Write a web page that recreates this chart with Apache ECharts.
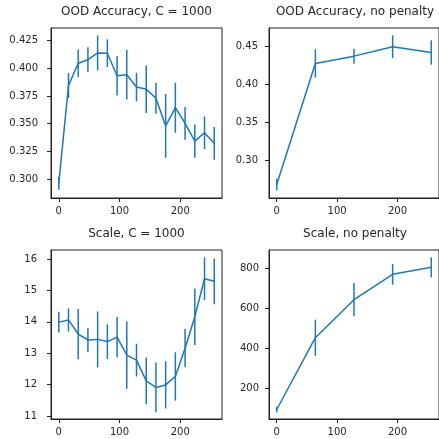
<!DOCTYPE html>
<html>
<head>
<meta charset="utf-8">
<script src="https://cdn.jsdelivr.net/npm/echarts@6/dist/echarts.min.js"></script>
<style>
html,body{margin:0;padding:0;background:#fff;overflow:hidden;}
#chart{width:439px;height:439px;}
</style>
</head>
<body>
<div id="chart"></div>
<script>
// ---- data ----
const stepsC = [0, 16, 32, 48, 64, 80, 96, 112, 128, 144, 160, 176, 192, 208, 224, 240, 256];
const stepsNoPen = [0, 64, 128, 192, 256];

const oodAccC = [0.2964, 0.3843, 0.4044, 0.4076, 0.4137, 0.4134, 0.3932, 0.3941, 0.3830, 0.3810, 0.3729, 0.3481, 0.3644, 0.3503, 0.3344, 0.3419, 0.3324];
const oodAccCErr = [0.0057, 0.0112, 0.0124, 0.0111, 0.0157, 0.0124, 0.0177, 0.0222, 0.0129, 0.0214, 0.0139, 0.0286, 0.0225, 0.0147, 0.0150, 0.0147, 0.0147];

const oodAccNoPen = [0.2688, 0.4271, 0.4367, 0.4491, 0.4415];
const oodAccNoPenErr = [0.0076, 0.0185, 0.0098, 0.0148, 0.0159];

const scaleC = [13.99, 14.06, 13.61, 13.42, 13.44, 13.37, 13.51, 12.94, 12.78, 12.12, 11.91, 11.99, 12.26, 13.16, 14.16, 15.37, 15.29];
const scaleCErr = [0.33, 0.37, 0.80, 0.38, 0.89, 0.55, 0.64, 1.07, 0.52, 0.74, 0.79, 0.75, 0.77, 0.61, 0.90, 0.68, 0.73];

const scaleNoPen = [94, 453, 643, 770, 805];
const scaleNoPenErr = [14, 90, 83, 52, 50];

const xTicks = [0, 100, 200];
const yTicksOodC = [0.300, 0.325, 0.350, 0.375, 0.400, 0.425];
const yTicksOodNoPen = [0.30, 0.35, 0.40, 0.45];
const yTicksScaleC = [11, 12, 13, 14, 15, 16];
const yTicksScaleNoPen = [200, 400, 600, 800];

const titles = ['OOD Accuracy, C = 1000', 'OOD Accuracy, no penalty', 'Scale, C = 1000', 'Scale, no penalty'];

// ---- chart ----
const C0 = '#1f77b4';
const TXT = '#262626';
const FONT = '"DejaVu Sans", sans-serif';

const panels = [
  {x: stepsC, y: oodAccC, e: oodAccCErr, yt: yTicksOodC, fmt: v => v.toFixed(3), ymin: 0.2832, ymax: 0.4361,
   grid: {left: 51, top: 28, width: 171, height: 170}, lm: 13},
  {x: stepsNoPen, y: oodAccNoPen, e: oodAccNoPenErr, yt: yTicksOodNoPen, fmt: v => v.toFixed(2), ymin: 0.2512, ymax: 0.4735,
   grid: {left: 269, top: 28, width: 172, height: 170}, lm: 11},
  {x: stepsC, y: scaleC, e: scaleCErr, yt: yTicksScaleC, fmt: v => String(v), ymin: 10.904, ymax: 16.287,
   grid: {left: 51, top: 250, width: 171, height: 169}, lm: 14},
  {x: stepsNoPen, y: scaleNoPen, e: scaleNoPenErr, yt: yTicksScaleNoPen, fmt: v => String(v), ymin: 46.5, ymax: 891.5,
   grid: {left: 269, top: 250, width: 172, height: 169}, lm: 10}
];

const option = {
  animation: false,
  backgroundColor: '#fff',
  title: [], grid: [], xAxis: [], yAxis: [], series: []
};

panels.forEach((p, i) => {
  option.grid.push(Object.assign({show: true, borderColor: '#222', borderWidth: 1, backgroundColor: 'transparent'}, p.grid));
  option.title.push({
    text: titles[i],
    left: p.grid.left + p.grid.width / 2,
    top: p.grid.top - 22,
    textAlign: 'center',
    padding: 0,
    textStyle: {fontFamily: FONT, fontSize: 12, fontWeight: 'normal', color: TXT}
  });
  option.xAxis.push({
    type: 'value', gridIndex: i, min: -12.8, max: 268.8,
    axisLine: {show: true, onZero: false, lineStyle: {color: '#222', width: 1}},
    axisTick: {show: true, length: 4, customValues: xTicks, lineStyle: {color: '#222', width: 1}},
    axisLabel: {show: true, customValues: xTicks, margin: 8, fontFamily: FONT, fontSize: 10, color: TXT, formatter: v => String(v)},
    splitLine: {show: false}
  });
  option.yAxis.push({
    type: 'value', gridIndex: i, min: p.ymin, max: p.ymax,
    axisLine: {show: true, onZero: false, lineStyle: {color: '#222', width: 1}},
    axisTick: {show: true, length: 4, customValues: p.yt, lineStyle: {color: '#222', width: 1}},
    axisLabel: {show: true, customValues: p.yt, margin: p.lm, fontFamily: FONT, fontSize: 10, color: TXT, formatter: p.fmt},
    splitLine: {show: false}
  });
  const errData = p.x.map((xv, k) => [xv, p.y[k] - p.e[k], p.y[k] + p.e[k]]);
  option.series.push({
    type: 'custom', xAxisIndex: i, yAxisIndex: i, data: errData, clip: false,
    renderItem: (params, api) => {
      const a = api.coord([api.value(0), api.value(1)]);
      const b = api.coord([api.value(0), api.value(2)]);
      return {type: 'line', shape: {x1: a[0], y1: a[1], x2: b[0], y2: b[1]},
              style: {stroke: C0, lineWidth: 1.5}};
    },
    encode: {x: 0, y: [1, 2]}
  });
  option.series.push({
    type: 'line', xAxisIndex: i, yAxisIndex: i,
    data: p.x.map((xv, k) => [xv, p.y[k]]),
    showSymbol: false, symbol: 'none',
    lineStyle: {color: C0, width: 1.5}, itemStyle: {color: C0}
  });
});

const chart = echarts.init(document.getElementById('chart'), null, {renderer: 'canvas'});
chart.setOption(option);
</script>
</body>
</html>
